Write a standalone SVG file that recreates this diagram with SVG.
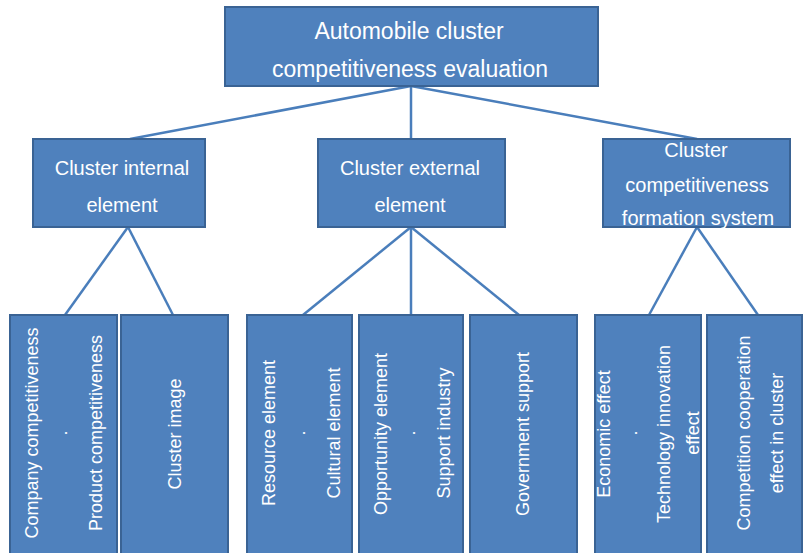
<svg xmlns="http://www.w3.org/2000/svg" width="804" height="553" viewBox="0 0 804 553">
<style>
.box{fill:#4F81BD;stroke:#3A6394;stroke-width:2}
.t{fill:#fff;font-family:"Liberation Sans",Arial,sans-serif;text-anchor:middle;dominant-baseline:central}
.top{font-size:23px}
.mid{font-size:20px}
.leaf{font-size:18px}
.con{stroke:#4A7EBB;stroke-width:2.5;fill:none}
</style>
<rect width="804" height="553" fill="#fff"/>
<g id="connectors">
<line class="con" x1="411" y1="86" x2="130" y2="139"/>
<line class="con" x1="411" y1="86" x2="411" y2="139"/>
<line class="con" x1="411" y1="86" x2="697" y2="139"/>
<line class="con" x1="128" y1="227" x2="65" y2="315"/>
<line class="con" x1="128" y1="227" x2="173" y2="315"/>
<line class="con" x1="411" y1="227" x2="303" y2="315"/>
<line class="con" x1="411" y1="227" x2="411" y2="315"/>
<line class="con" x1="411" y1="227" x2="519" y2="315"/>
<line class="con" x1="697" y1="227" x2="649" y2="315"/>
<line class="con" x1="697" y1="227" x2="758" y2="315"/>
</g>
<g id="root">
<rect class="box" x="225" y="7" width="373" height="79"/>
<text class="t top" x="409" y="31">Automobile cluster</text>
<text class="t top" x="410" y="69">competitiveness evaluation</text>
</g>
<g id="internal">
<rect class="box" x="33" y="139" width="172" height="88"/>
<text class="t mid" x="122" y="168">Cluster internal</text>
<text class="t mid" x="122" y="205">element</text>
</g>
<g id="external">
<rect class="box" x="318" y="139" width="187" height="88"/>
<text class="t mid" x="410" y="168">Cluster external</text>
<text class="t mid" x="410" y="205">element</text>
</g>
<g id="formation">
<rect class="box" x="603" y="139" width="187" height="88"/>
<text class="t mid" x="696" y="150">Cluster</text>
<text class="t mid" x="697" y="185">competitiveness</text>
<text class="t mid" x="698" y="218">formation system</text>
</g>
<g id="leaf-company">
<rect class="box" x="10" y="315" width="107" height="250"/>
<text class="t leaf" transform="translate(32,433) rotate(-90)">Company competitiveness</text>
<text class="t leaf" transform="translate(65,433) rotate(-90)">·</text>
<text class="t leaf" transform="translate(96,433) rotate(-90)">Product competitiveness</text>
</g>
<g id="leaf-image">
<rect class="box" x="121" y="315" width="107" height="250"/>
<text class="t leaf" transform="translate(175,434) rotate(-90)">Cluster image</text>
</g>
<g id="leaf-resource">
<rect class="box" x="247" y="315" width="105" height="250"/>
<text class="t leaf" transform="translate(269,433) rotate(-90)">Resource element</text>
<text class="t leaf" transform="translate(303,433) rotate(-90)">·</text>
<text class="t leaf" transform="translate(334,433) rotate(-90)">Cultural element</text>
</g>
<g id="leaf-opportunity">
<rect class="box" x="359" y="315" width="104" height="250"/>
<text class="t leaf" transform="translate(381,434) rotate(-90)">Opportunity element</text>
<text class="t leaf" transform="translate(413,433) rotate(-90)">·</text>
<text class="t leaf" transform="translate(444,433) rotate(-90)">Support industry</text>
</g>
<g id="leaf-government">
<rect class="box" x="470" y="315" width="107" height="250"/>
<text class="t leaf" transform="translate(523,434) rotate(-90)">Government support</text>
</g>
<g id="leaf-economic">
<rect class="box" x="595" y="315" width="106" height="250"/>
<text class="t leaf" transform="translate(604,434) rotate(-90)">Economic effect</text>
<text class="t leaf" transform="translate(635,433) rotate(-90)">·</text>
<text class="t leaf" transform="translate(664,434) rotate(-90)">Technology innovation</text>
<text class="t leaf" transform="translate(693,433) rotate(-90)">effect</text>
</g>
<g id="leaf-competition">
<rect class="box" x="707" y="315" width="95" height="250"/>
<text class="t leaf" transform="translate(744,433) rotate(-90)">Competition cooperation</text>
<text class="t leaf" transform="translate(777,433) rotate(-90)">effect in cluster</text>
</g>
</svg>
